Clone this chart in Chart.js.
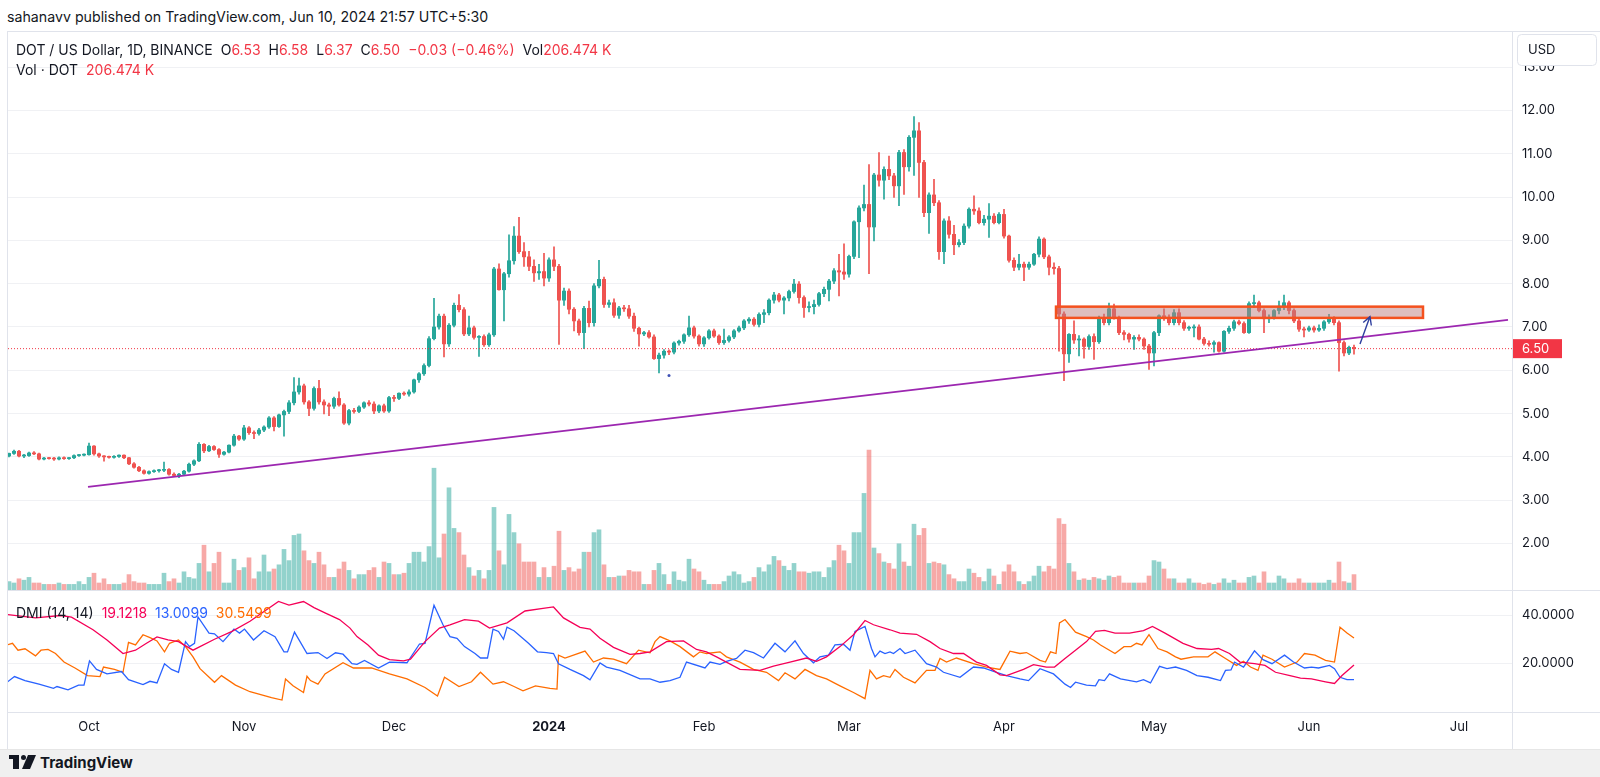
<!DOCTYPE html>
<html>
<head>
<meta charset="utf-8">
<script src="https://cdn.jsdelivr.net/npm/chart.js@4.4.1/dist/chart.umd.min.js"></script>
<style>
  html, body { margin: 0; padding: 0; background: #fff; }
  body { width: 1600px; height: 777px; position: relative; overflow: hidden;
         font-family: Inter, "Noto Sans", sans-serif; color: #131722; }
  .abs { position: absolute; white-space: nowrap; }
  .red { color: #f23645; }
  .hl { position: absolute; height: 1px; background: #e0e3eb; }
  .vl { position: absolute; width: 1px; background: #e0e3eb; }
  #main { position: absolute; left: 0; top: 0; }
  #dmi { position: absolute; left: 0; top: 590px; }
  .leg span { margin-right: 8px; }
</style>
</head>
<body>

<div class="abs" style="left:7px;top:8px;font-size:14.2px;">sahanavv published on TradingView.com, Jun 10, 2024 21:57 UTC+5:30</div>

<canvas id="main" width="1600" height="590"></canvas>
<canvas id="dmi" width="1600" height="159"></canvas>

<!-- frame lines -->
<div class="hl" style="left:7px;top:31px;width:1593px;"></div>
<div class="vl" style="left:7px;top:31px;height:718px;"></div>
<div class="hl" style="left:7px;top:590px;width:1593px;"></div>
<div class="hl" style="left:7px;top:712px;width:1593px;"></div>
<div class="vl" style="left:1512px;top:31px;height:718px;"></div>

<div class="abs leg" style="left:16px;top:41px;font-size:14px;">
  <span>DOT / US Dollar, 1D, BINANCE</span><span>O<b class="red" style="font-weight:normal">6.53</b></span><span>H<b class="red" style="font-weight:normal">6.58</b></span><span>L<b class="red" style="font-weight:normal">6.37</b></span><span>C<b class="red" style="font-weight:normal">6.50</b></span><span class="red">−0.03 (−0.46%)</span><span>Vol<b class="red" style="font-weight:normal">206.474 K</b></span>
</div>
<div class="abs leg" style="left:16px;top:61px;font-size:14px;">
  <span>Vol · DOT</span><span class="red">206.474 K</span>
</div>

<div class="abs leg" style="left:16px;top:604px;font-size:14px;">
  <span>DMI (14, 14)</span><span style="color:#f50057">19.1218</span><span style="color:#2962ff">13.0099</span><span style="color:#ff6d00">30.5499</span>
</div>

<div class="abs" style="left:0;top:749px;width:1600px;height:28px;background:#f0f0f0;border-top:1px solid #e6e6e6;"></div>
<svg class="abs" style="left:9px;top:755px;" width="28" height="14" viewBox="0 0 28 14">
  <rect x="0" y="0" width="10" height="4" fill="#131722"/>
  <rect x="4" y="0" width="6" height="14" fill="#131722"/>
  <circle cx="14.5" cy="2.5" r="2.5" fill="#131722"/>
  <polygon points="19,0 27,0 21,14 13,14" fill="#131722"/>
</svg>
<div class="abs" style="left:40px;top:753px;font-size:15px;font-weight:bold;">TradingView</div>

<script>
// ---- data: first candle is Sep 15 2023, day index counted from Oct 1 2023 ----
const firstDay = -16;

// [open, high, low, close]
const sep23 = [
  [4.02,4.09,4.00,4.08],[4.08,4.16,4.06,4.13],[4.13,4.15,4.00,4.02],[4.02,4.06,3.98,4.03],
  [4.03,4.11,4.01,4.09],[4.09,4.12,4.05,4.07],[4.07,4.09,3.93,3.95],[3.95,3.99,3.93,3.97],
  [3.97,3.99,3.95,3.96],[3.96,3.99,3.92,3.95],[3.95,4.00,3.93,3.98],[3.98,4.00,3.94,3.96],
  [3.96,3.99,3.94,3.98],[3.98,4.05,3.96,4.03],[4.03,4.06,4.01,4.04],[4.04,4.07,4.02,4.05]
];
const oct23 = [
  [4.05,4.32,4.04,4.25],[4.25,4.26,4.04,4.07],[4.07,4.09,3.99,4.02],[4.02,4.03,3.90,4.00],
  [4.00,4.02,3.97,3.99],[3.99,4.03,3.97,4.01],[4.01,4.05,3.99,4.04],[4.04,4.05,3.96,3.98],
  [3.98,3.99,3.82,3.84],[3.84,3.87,3.74,3.76],[3.76,3.78,3.66,3.68],[3.68,3.70,3.60,3.62],
  [3.62,3.68,3.60,3.66],[3.66,3.70,3.64,3.68],[3.68,3.71,3.65,3.69],[3.69,3.88,3.66,3.71],
  [3.71,3.73,3.58,3.60],[3.60,3.63,3.55,3.57],[3.57,3.62,3.52,3.60],[3.60,3.69,3.58,3.67],
  [3.67,3.86,3.65,3.83],[3.83,3.93,3.80,3.91],[3.91,4.33,3.89,4.29],[4.29,4.31,4.10,4.14],
  [4.14,4.27,4.12,4.24],[4.24,4.26,4.15,4.17],[4.17,4.19,3.99,4.06],[4.06,4.13,4.04,4.11],
  [4.11,4.28,4.09,4.27],[4.27,4.52,4.25,4.48],[4.48,4.50,4.38,4.41]
];
const nov23 = [
  [4.41,4.73,4.38,4.67],[4.67,4.70,4.52,4.56],[4.56,4.60,4.42,4.54],[4.54,4.66,4.50,4.62],
  [4.62,4.72,4.58,4.69],[4.69,4.93,4.66,4.90],[4.90,4.93,4.60,4.70],[4.70,4.99,4.68,4.97],
  [4.97,5.08,4.48,5.05],[5.05,5.30,5.00,5.25],[5.25,5.83,5.20,5.50],[5.50,5.82,5.45,5.64],
  [5.64,5.68,5.22,5.27],[5.27,5.30,4.95,5.12],[5.12,5.62,5.08,5.58],[5.58,5.77,5.22,5.27],
  [5.27,5.32,4.99,5.20],[5.20,5.24,4.95,5.17],[5.17,5.38,5.12,5.35],[5.35,5.50,5.17,5.20],
  [5.20,5.23,4.75,4.78],[4.78,5.10,4.74,5.07],[5.07,5.12,5.01,5.05],[5.05,5.18,5.02,5.15],
  [5.15,5.27,5.12,5.25],[5.25,5.30,5.18,5.22],[5.22,5.27,5.00,5.06],[5.06,5.20,5.02,5.18],
  [5.18,5.22,5.03,5.06],[5.06,5.40,5.03,5.37]
];
const dec23 = [
  [5.37,5.42,5.28,5.35],[5.35,5.48,5.32,5.47],[5.47,5.50,5.42,5.45],[5.45,5.55,5.40,5.50],
  [5.50,5.80,5.47,5.78],[5.78,5.95,5.72,5.92],[5.92,6.15,5.88,6.11],[6.11,6.78,6.08,6.73],
  [6.73,7.66,6.70,7.00],[7.00,7.30,6.95,7.25],[7.25,7.30,6.31,6.61],[6.61,7.08,6.55,7.04],
  [7.04,7.55,7.00,7.50],[7.50,7.75,7.35,7.40],[7.40,7.45,6.80,6.84],[6.84,7.25,6.80,6.98],
  [6.98,7.02,6.72,6.76],[6.76,6.80,6.32,6.78],[6.78,6.82,6.55,6.59],[6.59,6.86,6.55,6.82],
  [6.82,8.38,6.78,8.34],[8.34,8.46,7.85,7.86],[7.86,8.26,7.14,8.23],[8.23,9.13,8.15,8.53],
  [8.53,9.32,8.45,9.10],[9.10,9.53,8.70,8.74],[8.74,8.95,8.40,8.62],[8.62,8.75,8.30,8.40],
  [8.40,8.55,8.05,8.25],[8.25,8.45,8.10,8.28],[8.28,8.70,7.95,8.13]
];
const jan24 = [
  [8.13,8.60,8.05,8.55],[8.55,8.85,8.30,8.40],[8.40,8.45,6.60,7.62],[7.62,7.90,7.50,7.83],
  [7.83,7.88,7.30,7.41],[7.41,7.45,6.91,7.14],[7.14,7.18,6.81,6.87],[6.87,7.48,6.50,7.43],
  [7.43,7.60,7.00,7.10],[7.10,8.00,7.02,7.95],[7.95,8.54,7.90,8.10],[8.10,8.15,7.45,7.52],
  [7.52,7.62,7.45,7.56],[7.56,7.65,7.22,7.27],[7.27,7.48,7.20,7.44],[7.44,7.50,7.36,7.42],
  [7.42,7.50,7.20,7.25],[7.25,7.32,6.90,6.97],[6.97,7.00,6.56,6.84],[6.84,6.90,6.80,6.87],
  [6.87,6.92,6.74,6.77],[6.77,6.82,6.25,6.27],[6.27,6.40,5.94,6.35],[6.35,6.48,6.28,6.44],
  [6.44,6.47,6.36,6.42],[6.42,6.66,6.38,6.63],[6.63,6.70,6.58,6.67],[6.67,6.84,6.62,6.82],
  [6.82,7.25,6.78,6.98],[6.98,7.02,6.74,6.79],[6.79,6.82,6.56,6.61]
];
const feb24 = [
  [6.61,6.78,6.55,6.75],[6.75,6.94,6.72,6.91],[6.91,6.95,6.76,6.79],[6.79,6.82,6.60,6.64],
  [6.64,6.95,6.60,6.69],[6.69,6.80,6.65,6.77],[6.77,6.94,6.73,6.91],[6.91,7.02,6.88,6.98],
  [6.98,7.17,6.94,7.14],[7.14,7.22,7.08,7.18],[7.18,7.22,7.02,7.06],[7.06,7.33,7.00,7.29],
  [7.29,7.40,7.10,7.33],[7.33,7.65,7.28,7.62],[7.62,7.80,7.55,7.74],[7.74,7.78,7.58,7.62],
  [7.62,7.70,7.30,7.67],[7.67,7.85,7.60,7.82],[7.82,8.10,7.78,7.99],[7.99,8.05,7.55,7.68],
  [7.68,7.72,7.22,7.45],[7.45,7.58,7.35,7.47],[7.47,7.62,7.30,7.52],[7.52,7.80,7.48,7.77],
  [7.77,7.92,7.70,7.87],[7.87,8.10,7.60,8.06],[8.06,8.35,8.00,8.30],[8.30,8.68,7.72,8.27],
  [8.27,8.92,8.10,8.22]
];
const mar24 = [
  [8.22,8.66,8.15,8.63],[8.63,9.45,8.58,9.43],[9.43,9.80,8.60,9.75],[9.75,10.28,9.68,9.83],
  [9.83,10.75,8.23,9.31],[9.31,10.55,8.99,10.51],[10.51,11.03,10.25,10.39],[10.39,10.70,9.95,10.64],
  [10.64,10.95,10.40,10.49],[10.49,10.55,9.99,10.26],[10.26,11.08,9.80,11.03],[11.03,11.10,10.06,10.70],
  [10.70,11.42,10.60,11.38],[11.38,11.86,10.50,11.53],[11.53,11.72,9.99,10.80],[10.80,10.85,9.55,9.64],
  [9.64,10.10,9.16,10.05],[10.05,10.41,9.80,9.87],[9.87,9.92,8.56,8.74],[8.74,9.50,8.46,9.45],
  [9.45,9.55,9.05,9.14],[9.14,9.35,8.67,8.90],[8.90,9.02,8.85,8.95],[8.95,9.38,8.90,9.33],
  [9.33,9.75,9.28,9.72],[9.72,10.03,9.60,9.68],[9.68,9.75,9.38,9.41],[9.41,9.58,9.35,9.49],
  [9.49,9.85,9.07,9.56],[9.56,9.62,9.38,9.41],[9.41,9.64,9.38,9.60]
];
const apr24 = [
  [9.60,9.72,9.05,9.10],[9.10,9.12,8.50,8.54],[8.54,8.60,8.30,8.38],[8.38,8.68,8.32,8.45],
  [8.45,8.50,8.07,8.38],[8.38,8.50,8.33,8.45],[8.45,8.70,8.42,8.68],[8.68,9.08,8.62,9.03],
  [9.03,9.06,8.58,8.62],[8.62,8.66,8.20,8.38],[8.38,8.48,8.22,8.35],[8.35,8.40,6.44,7.30],
  [7.30,7.35,5.76,6.38],[6.38,6.85,6.18,6.83],[6.83,7.14,6.62,6.70],[6.70,6.80,6.33,6.72],
  [6.72,6.75,6.28,6.55],[6.55,6.82,6.48,6.78],[6.78,6.84,6.25,6.66],[6.66,7.25,6.62,7.22],
  [7.22,7.30,7.05,7.10],[7.10,7.55,7.05,7.42],[7.42,7.53,7.18,7.22],[7.22,7.25,6.82,6.87],
  [6.87,6.92,6.70,6.83],[6.83,6.86,6.65,6.72],[6.72,6.80,6.48,6.76],[6.76,6.82,6.68,6.72],
  [6.72,6.75,6.48,6.56],[6.56,6.60,6.02,6.40]
];
const may24 = [
  [6.40,6.90,6.10,6.87],[6.87,7.28,6.80,7.26],[7.26,7.42,7.15,7.22],[7.22,7.28,7.05,7.10],
  [7.10,7.40,7.05,7.33],[7.33,7.42,7.05,7.10],[7.10,7.15,6.92,6.97],[6.97,7.02,6.92,6.98],
  [6.98,7.05,6.77,7.00],[7.00,7.05,6.70,6.72],[6.72,6.76,6.58,6.62],[6.62,6.68,6.56,6.60],
  [6.60,6.68,6.42,6.64],[6.64,6.66,6.42,6.44],[6.44,6.92,6.42,6.90],[6.90,7.02,6.85,6.97],
  [6.97,7.16,6.92,7.12],[7.12,7.16,7.05,7.08],[7.08,7.12,6.85,6.87],[6.87,7.58,6.85,7.54],
  [7.54,7.74,7.45,7.56],[7.56,7.60,7.35,7.38],[7.38,7.42,6.87,7.19],[7.19,7.28,7.10,7.22],
  [7.22,7.40,7.18,7.38],[7.38,7.60,7.30,7.48],[7.48,7.74,7.40,7.56],[7.56,7.60,7.30,7.38],
  [7.38,7.42,7.10,7.14],[7.14,7.18,6.90,6.95],[6.95,7.00,6.77,6.93]
];
const jun24 = [
  [6.93,7.02,6.90,6.98],[6.98,7.02,6.88,6.93],[6.93,7.05,6.90,6.97],[6.97,7.15,6.92,7.12],
  [7.12,7.29,7.08,7.20],[7.20,7.24,7.05,7.10],[7.10,7.14,5.98,6.64],[6.64,6.68,6.33,6.40],
  [6.40,6.56,6.36,6.53],[6.53,6.58,6.37,6.50]
];

// volume (relative units, largest bar = 100)
const volSep = [6,5,8,7,9,5,5,4,4,4,5,4,4,4,6,4];
const volOct = [9,12,5,8,4,4,4,5,11,6,5,5,4,4,4,12,6,8,5,13,9,8,19,32,13,19,27,5,5,22,14];
const volNov = [16,23,8,13,25,13,15,18,29,21,39,40,28,21,19,27,18,9,9,15,20,14,8,11,11,14,16,9,20,19];
const volDec = [11,11,12,19,27,27,20,31,87,23,40,73,44,41,25,16,10,14,8,14,59,28,18,54,41,33,20,20,20,9,16];
const volJan = [9,17,42,14,16,13,15,27,27,41,43,18,9,9,10,10,14,13,13,4,4,14,19,11,4,13,7,6,22,15,13];
const volFeb = [7,4,4,4,6,10,13,11,5,6,9,16,13,18,24,21,17,14,19,13,13,12,13,13,9,16,21,32,28];
const volMar = [19,41,41,69,100,30,26,20,19,15,33,20,17,47,39,44,19,20,19,18,11,8,6,6,15,12,9,6,15,10,4];
const volApr = [13,18,13,6,4,6,10,17,13,17,15,51,47,19,13,7,8,7,9,8,7,10,9,10,5,5,5,5,5,10];
const volMay = [21,20,15,8,8,5,5,8,5,5,4,5,4,5,8,5,7,5,5,9,10,5,13,5,5,10,8,5,5,8,5];
const volJun = [5,5,5,5,7,5,20,6,5,11];

// DMI lines (day index, value)
const adxDays = [-16.4,-10.7,-5.7,-3.5,0.8,3.6,6.8,9.3,11.5,13.6,15.8,17.9,20.8,25.1,28.6,32.2,37.9,40,42.9,45,47.2,50.1,52.2,53.6,55.8,57.9,60.1,62.9,64.3,67.2,70.1,72.2,75.1,77.9,80.1,83.6,87.2,90.8,92.9,94.9,98.2,100.2,102.2,104.9,108.2,110.2,112.2,115.5,118.9,121.5,123.5,125.5,130.2,134.2,136.9,140.2,143.5,145.5,147.5,150.2,152.9,155.2,156.9,160.2,162.2,165.5,168.2,170.2,172.9,174.9,177.5,179.5,182.2,183.5,186.9,188.9,191.5,193.1,195.2,197.3,199.5,201.3,203.1,205.2,208.1,210.9,212.7,215.2,218.8,221.6,224.5,225.9,228.1,230.2,233.1,235.2,237.3,240.2,242.3,244.5,247.3,249.1,250.6,253];
const adxVals = [40.4,39,40,39.3,34,29.7,24,25.4,28.3,31,29.7,29,25.4,30,33.3,37.6,45.9,44.4,45.9,43.3,41.1,38.3,34.7,31.1,27.6,23.3,21.4,20.9,21.6,29,34.7,36.1,38.3,37.6,34.7,36.9,41.9,43,43.6,39,35,34.3,30.4,26.6,23.6,24,24.7,29,29.3,25.7,24.7,22.6,17.3,16.9,18.7,20.4,22.1,20.7,22.6,26.9,31.9,37.9,36.1,34,32.6,32.1,29,26.1,24,24,20.4,19,15,14.7,17.3,19.3,18.3,18.3,21.9,25.4,29,33.3,33.7,32.6,32.6,33.6,35.4,32.6,28.3,26.1,25.7,26.1,24,20.4,19.7,19,16.1,14.7,13.6,13.3,12.1,11.4,14.7,19.12];

const plusDays = [-16.4,-14.9,-12.8,-10,-7.1,-6.4,-4.2,-2.1,-1,0.1,1.5,3.6,6.5,7.9,10.8,12.2,13.6,15.1,16.5,17.9,19.3,20.1,21.1,21.8,24,25.1,26.8,29,30.1,31.1,32.9,35,37.2,39,39.7,41.1,43.6,45.8,47.6,49.3,50.8,52.6,53.6,55.1,57.9,60.1,63.6,66.1,67.2,69,70.8,72.2,73.6,75.1,77.2,78.3,79.7,80.8,81.9,82.9,83.6,85,87.9,89.7,91.5,92.9,93.9,96.2,98.9,100.2,102.2,103.5,106.2,110.2,112.2,114.2,116.2,118.2,119.5,123.2,124.2,126.2,127.5,129.5,131.2,132.9,134.9,137.2,139.2,141.2,142.9,144.9,146.2,147.9,149.2,150.9,152.2,153.2,155.2,156.5,157.2,158.2,159.2,160.2,160.9,162.2,163.2,165.2,167.5,169.5,170.9,174.2,176.9,178.9,181.5,183.5,186.2,187.9,190.2,192.9,195.2,196.3,197.3,199.5,201.3,202,203.1,204.1,206.3,209.5,210.9,212.3,214.1,215.6,217.3,219.5,221.6,223.8,226.3,227.3,228.4,229.1,230.9,233.1,234.8,236.6,239.1,240.9,243.1,244.5,245.9,248.1,249.1,250.2,251.6,253];
const plusVals = [11.9,14.3,12.6,11.1,9.3,10.1,8.7,10.7,10.7,20.9,17.3,15.4,16.4,13,10.9,12.3,11.6,19.7,17.3,16.1,29,26.9,28.3,39.4,32.6,32.3,29,34.3,32.6,34.3,29.7,33.6,31.1,24.7,24.7,33,24,24.4,21.9,24.3,23.7,19.7,19.4,21.1,17.9,20.4,20.1,28,28.3,44.3,36.1,31.1,30.4,26.9,24,22.1,22.1,34.3,33.3,30,35.1,33.6,28.3,24.7,24.4,24,19.7,17.3,14.7,12.9,20,18.3,16.9,13.3,13.3,11.9,12.6,14,20.4,17.9,20.4,19.4,20.7,21.9,25.4,24.4,22.1,28.3,24.7,29.3,24,20.1,22.6,23.3,27.6,27.9,25.4,33.3,35.4,26.1,22.6,25,24,24.7,24,26.1,24,25.4,19.7,18.3,16.1,14,18.3,17.9,16.1,14.7,13.3,12.6,17.6,15.4,11.1,9.7,11.9,10.7,10.4,13,12.6,15.4,13.3,12.1,13,11.6,18.6,17.6,18.3,16.9,14.7,14,12.6,16.9,17.1,20.4,18.3,25.1,21.4,19.7,23.3,20.4,17.9,18.3,17.9,19,17.6,14,13,13.01];

const minusDays = [-16.4,-15.3,-14.2,-12.8,-10.7,-9.6,-8.2,-6.7,-5,-2.8,-0.3,2.2,2.9,5.1,6.8,7.9,9.3,10.8,12.2,13.6,15.1,16.1,17.9,19.3,20.8,22.2,25.1,26.5,29.3,32.2,36.5,38.6,39.3,40.8,42.9,43.6,44.3,45.8,47.2,50.8,52.9,56.5,60.1,63.6,67.2,69.7,71.1,74,76.5,78.3,80.8,82.9,85,86.8,89.3,92.2,93.6,93.9,95.2,96.9,99.2,100.9,102.9,104.9,107.5,109.9,112.2,113.2,114.2,116.2,118.2,120.9,122.2,123.5,126.2,127.5,130.2,132.9,135.5,137.9,139.2,141.2,143.2,145.5,147.5,150.2,152.9,155.2,156.2,157.5,158.9,160.2,161.2,162.9,165.2,167.5,169.2,170.2,171.5,173.5,176.9,179.5,182.2,184.2,186.2,187.5,190.2,191.3,192.3,193.4,194.1,195.2,197.3,199.5,200.9,202.3,205.2,207,208.4,209.5,210.6,212,213.8,215.6,217.3,218.4,220.9,223.8,225.2,227.3,229.5,230.9,232.3,233.8,234.8,236.6,239.1,241.6,243.1,245.2,247.3,249.1,250.2,251.6,253];
const minusVals = [27.6,28.3,25.4,26,23,25.4,25.7,24,20.4,17.9,14.7,14.3,18.3,17.3,16.1,28.7,27.6,31.9,30.7,29.3,24.7,28.3,29.7,26.9,22.6,17.6,11.9,14.7,10.7,7.9,5.4,4.4,13.3,10.4,7.6,14.4,12.6,11.1,15.4,20.1,17.9,17.9,15.4,13.3,9.7,6.1,14,10.1,12.1,16.1,11.1,12.1,10.1,8.3,10.4,9.3,9,23.3,22.1,23.3,25,20.4,22.1,21.6,19.7,25.4,24.3,29,31.1,29.3,26.9,22.6,24.7,24,24.7,22.6,20.4,17.3,16.1,12.6,15.9,13.3,17.3,14.7,13.3,10.4,7.6,5,16.9,13.3,14.7,14,17.3,14,11.6,16.9,16.9,21.9,20.4,22.1,19.7,18.3,17.3,25,24,24.4,21.1,20.4,24.7,24,36.9,38.3,33,31.1,29.7,27.6,24,26.9,26.9,28.3,27.6,31.9,26.1,24.7,22.6,21.6,22.6,22.6,24.7,21.9,19,20.7,18.3,16.9,23.3,21.6,18.3,20.4,24,23.3,21.1,20.4,35.1,32.6,30.55];

// axes
const priceTicks = [2,3,4,5,6,7,8,9,10,11,12,13];
const dmiTicks = [20,40];
const monthDays = [0,31,61,92,123,152,183,213,244,274];
const monthLabels = ['Oct','Nov','Dec','2024','Feb','Mar','Apr','May','Jun','Jul'];

// drawings
const lastPrice = 6.50;
const trendDays = [-0.2, 283.8];
const trendPrices = [3.31, 7.165];
const zoneDays = [193.4, 266.8];
const zonePrices = [7.21, 7.47];
const arrowDays = [254.2, 256.2];
const arrowPrices = [6.61, 7.24];
const dotDay = 116, dotPrice = 5.88;

// ---- build ----
const xMin = -16.2, xMax = 284.6;
const up = '#26a69a', down = '#ef5350';
const upVol = 'rgba(38,166,154,0.5)', downVol = 'rgba(239,83,80,0.5)';
const FONT = 'Inter, "Noto Sans", sans-serif';

const candles = [].concat(sep23, oct23, nov23, dec23, jan24, feb24, mar24, apr24, may24, jun24);
const volumes = [].concat(volSep, volOct, volNov, volDec, volJan, volFeb, volMar, volApr, volMay, volJun);
const isUp = candles.map(c => c[3] >= c[0]);
const bodies = candles.map((c, i) => ({x: firstDay + i, y: [c[0], c[3]]}));
const wicks = candles.map((c, i) => ({x: firstDay + i, y: [c[2], c[1]]}));
const vols = volumes.map((v, i) => ({x: firstDay + i, y: v}));
const candleColors = isUp.map(u => u ? up : down);
const volColors = isUp.map(u => u ? upVol : downVol);
const pts = (days, vals) => vals.map((v, i) => ({x: days[i], y: v}));

// keep chart.js from shrinking the plot for half-label overflow
const fitRight = s => { s.width = 88; s.paddingTop = 0; s.paddingBottom = 0; };

const drawings = {
  id: 'drawings',
  afterDatasetsDraw(chart) {
    const {ctx, scales: {x, y}} = chart;
    ctx.save();
    // resistance zone
    const zx0 = x.getPixelForValue(zoneDays[0]), zx1 = x.getPixelForValue(zoneDays[1]);
    const zy0 = y.getPixelForValue(zonePrices[1]), zy1 = y.getPixelForValue(zonePrices[0]);
    ctx.fillStyle = 'rgba(190,125,125,0.5)';
    ctx.fillRect(zx0, zy0, zx1 - zx0, zy1 - zy0);
    ctx.strokeStyle = '#f4511e';
    ctx.lineWidth = 2.5;
    ctx.strokeRect(zx0, zy0, zx1 - zx0, zy1 - zy0);
    // arrow
    const ax0 = x.getPixelForValue(arrowDays[0]), ay0 = y.getPixelForValue(arrowPrices[0]);
    const ax1 = x.getPixelForValue(arrowDays[1]), ay1 = y.getPixelForValue(arrowPrices[1]);
    const ang = Math.atan2(ay1 - ay0, ax1 - ax0);
    ctx.strokeStyle = '#2e3f9e';
    ctx.lineWidth = 1.4;
    ctx.beginPath();
    ctx.moveTo(ax0, ay0); ctx.lineTo(ax1, ay1);
    ctx.moveTo(ax1 - 9 * Math.cos(ang - 0.5), ay1 - 9 * Math.sin(ang - 0.5));
    ctx.lineTo(ax1, ay1);
    ctx.lineTo(ax1 - 9 * Math.cos(ang + 0.5), ay1 - 9 * Math.sin(ang + 0.5));
    ctx.stroke();
    // stray dot
    ctx.fillStyle = '#3f51b5';
    ctx.beginPath();
    ctx.arc(x.getPixelForValue(dotDay), y.getPixelForValue(dotPrice), 1.5, 0, Math.PI * 2);
    ctx.fill();
    ctx.restore();
  },
  afterDraw(chart) {
    const {ctx, scales: {y}, chartArea} = chart;
    ctx.save();
    // last price label
    const py = y.getPixelForValue(lastPrice);
    ctx.fillStyle = '#f23645';
    ctx.fillRect(chartArea.right + 1, py - 9.5, 49, 19);
    ctx.fillStyle = '#fff';
    ctx.font = '13px ' + FONT;
    ctx.textBaseline = 'middle';
    ctx.fillText(lastPrice.toFixed(2), chartArea.right + 10, py + 0.5);
    // currency button
    ctx.fillStyle = '#fff';
    ctx.strokeStyle = '#e0e3eb';
    ctx.lineWidth = 1;
    ctx.beginPath();
    ctx.roundRect(1517.5, 34.5, 79, 31, 4);
    ctx.fill(); ctx.stroke();
    ctx.fillStyle = '#131722';
    ctx.fillText('USD', 1528, 50);
    ctx.restore();
  }
};

new Chart(document.getElementById('main'), {
  type: 'bar',
  data: {
    datasets: [
      {type: 'line', data: pts(trendDays, trendPrices), borderColor: '#9c27b0', borderWidth: 1.8,
       pointRadius: 0, order: 0},
      {type: 'line', data: [{x: xMin, y: lastPrice}, {x: xMax, y: lastPrice}], borderColor: '#f23645',
       borderWidth: 1, borderDash: [1, 2], pointRadius: 0, order: 0},
      {data: bodies, backgroundColor: candleColors, grouped: false, barThickness: 3.4, minBarLength: 1, order: 1},
      {data: wicks, backgroundColor: candleColors, grouped: false, barThickness: 1, order: 2},
      {data: vols, backgroundColor: volColors, yAxisID: 'v', grouped: false, barThickness: 4, order: 3}
    ]
  },
  options: {
    responsive: false, animation: false, events: [],
    layout: {padding: {left: 8, top: 31, right: 0, bottom: 0}},
    plugins: {legend: {display: false}, tooltip: {enabled: false}},
    scales: {
      x: {type: 'linear', min: xMin, max: xMax, offset: false, display: false},
      y: {
        position: 'right', min: 0.926, max: 13.836,
        afterBuildTicks: s => { s.ticks = priceTicks.map(v => ({value: v})); },
        afterFit: fitRight,
        grid: {color: '#f0f1f4', drawTicks: false},
        border: {display: false},
        ticks: {padding: 10, color: '#131722', font: {size: 13, family: FONT},
                callback: v => Number(v).toFixed(2)}
      },
      v: {display: false, min: 0, max: 399.3}
    }
  },
  plugins: [drawings]
});

new Chart(document.getElementById('dmi'), {
  type: 'line',
  data: {
    datasets: [
      {data: pts(adxDays, adxVals), borderColor: '#f50057', borderWidth: 1.3, pointRadius: 0},
      {data: pts(plusDays, plusVals), borderColor: '#2962ff', borderWidth: 1.3, pointRadius: 0},
      {data: pts(minusDays, minusVals), borderColor: '#ff6d00', borderWidth: 1.3, pointRadius: 0}
    ]
  },
  options: {
    responsive: false, animation: false, events: [],
    layout: {padding: {left: 8, top: 0, right: 0, bottom: 0}},
    plugins: {legend: {display: false}, tooltip: {enabled: false}},
    scales: {
      x: {
        type: 'linear', min: xMin, max: xMax,
        afterBuildTicks: s => { s.ticks = monthDays.map(v => ({value: v})); },
        afterFit: s => { s.height = 37; s.paddingLeft = 0; s.paddingRight = 0; },
        grid: {display: false, drawTicks: false},
        border: {display: false},
        ticks: {padding: 7, color: '#131722', maxRotation: 0, autoSkip: false,
                font: c => ({size: 13, family: FONT, weight: c.index === 3 ? 'bold' : 'normal'}),
                callback: (v, i) => monthLabels[i]}
      },
      y: {
        position: 'right', min: -0.63, max: 50.74,
        afterBuildTicks: s => { s.ticks = dmiTicks.map(v => ({value: v})); },
        afterFit: fitRight,
        grid: {color: '#f0f1f4', drawTicks: false},
        border: {display: false},
        ticks: {padding: 10, color: '#131722', font: {size: 13, family: FONT},
                callback: v => Number(v).toFixed(4)}
      }
    }
  }
});
</script>
</body>
</html>
